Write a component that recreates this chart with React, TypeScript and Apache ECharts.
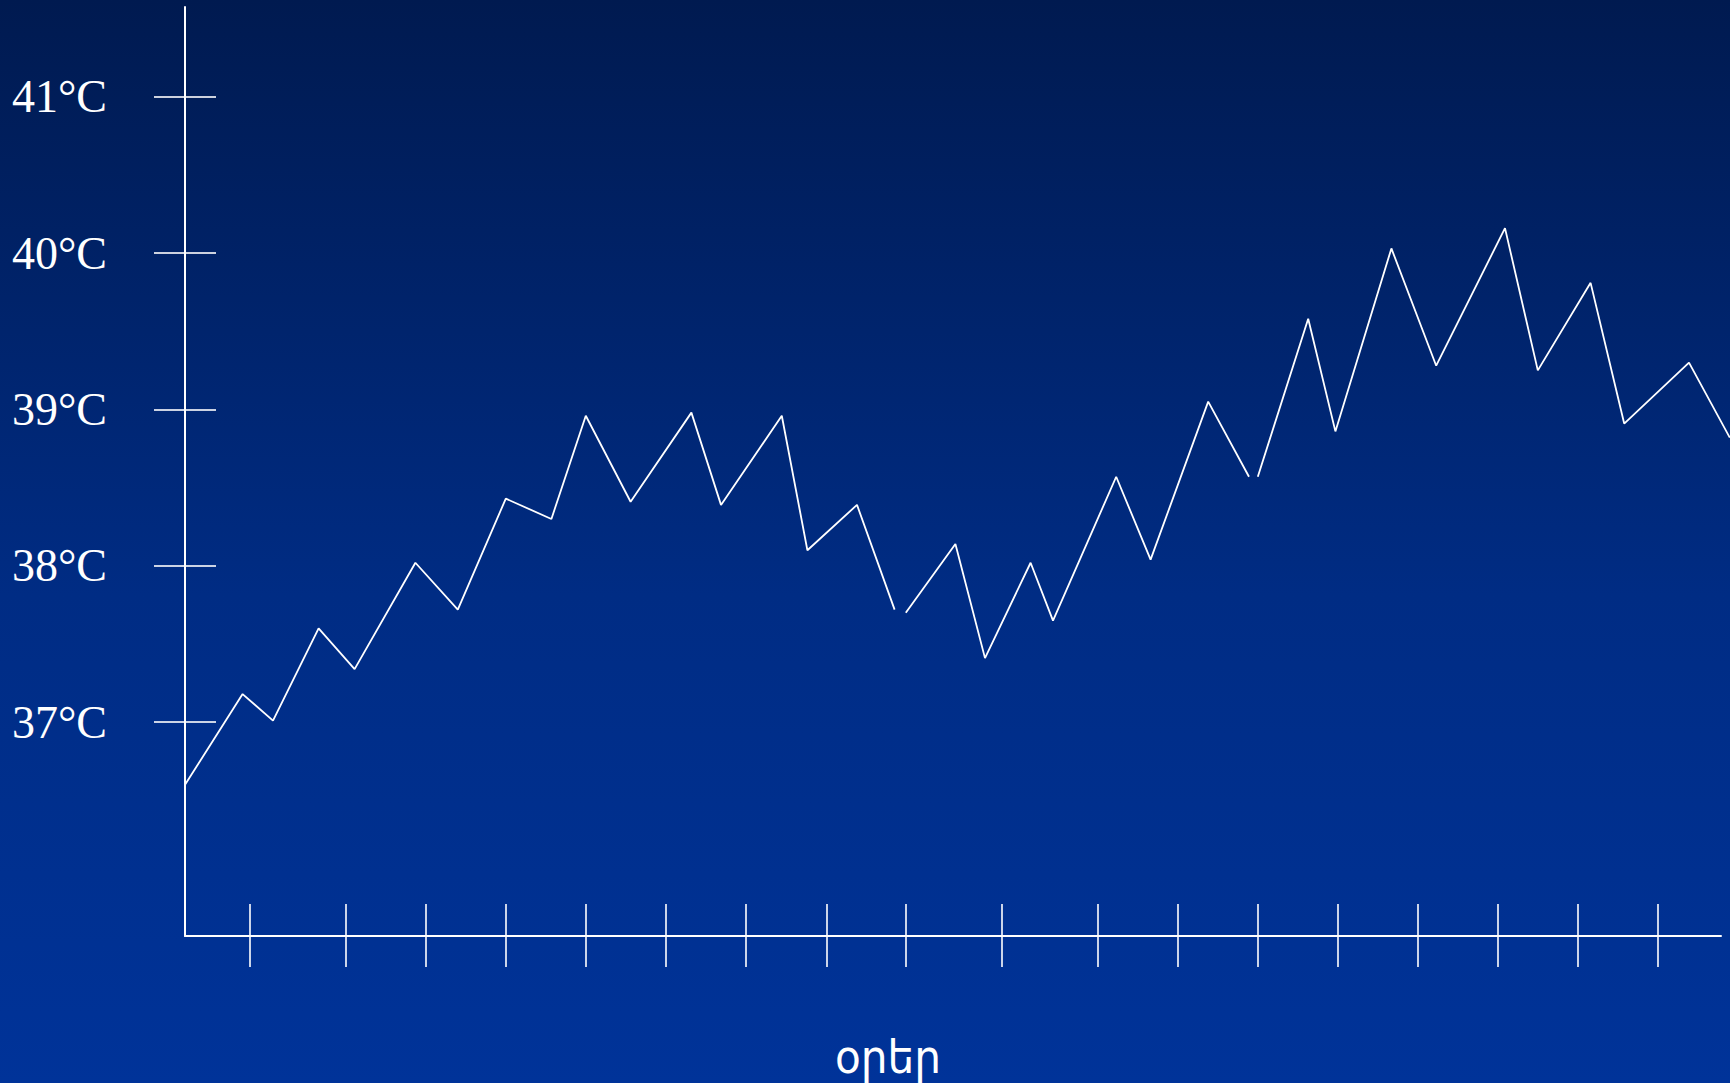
import React, { useEffect, useRef } from "react";
import * as echarts from "echarts";

// Days elapsed (x) and body temperature readings (°C), split where the curve breaks
const seg1Days = [0, 0.72, 1.1, 1.67, 2.12, 2.88, 3.41, 4.01, 4.58, 5.01, 5.57, 6.33, 6.7, 7.46, 7.78, 8.4, 8.87];
const seg1Temps = [36.6, 37.18, 37.01, 37.6, 37.34, 38.02, 37.72, 38.43, 38.3, 38.96, 38.41, 38.98, 38.39, 38.96, 38.1, 38.39, 37.72];

const seg2Days = [9.01, 9.63, 10.0, 10.57, 10.85, 11.64, 12.07, 12.79, 13.3];
const seg2Temps = [37.7, 38.14, 37.41, 38.02, 37.65, 38.57, 38.04, 39.05, 38.57];

const seg3Days = [13.41, 14.04, 14.38, 15.08, 15.64, 16.5, 16.91, 17.57, 17.99, 18.8, 19.31];
const seg3Temps = [38.57, 39.58, 38.86, 40.03, 39.28, 40.16, 39.25, 39.81, 38.91, 39.3, 38.82];

// Day marks along the horizontal axis
const dayTicks = [0.81, 2.01, 3.01, 4.01, 5.01, 6.01, 7.01, 8.02, 9.01, 10.21, 11.41, 12.41, 13.41, 14.41, 15.41, 16.41, 17.41, 18.41];

// Temperature marks on the vertical axis
const tempTicks = [37, 38, 39, 40, 41];

const xAxisTitle = "օրեր";

const X_MIN = 0;
const X_AXIS_MAX = 19.2; // where the drawn day axis stops
const X_PLOT_MAX = 19.3125; // the curve runs on to the right edge
const Y_MIN = 35.633;
const Y_MAX = 41.574;

const WHITE = "#ffffff";

function pairs(xs: number[], ys: number[]) {
  return xs.map((x, i) => [x, ys[i]]);
}

export default function App() {
  const ref = useRef<HTMLDivElement>(null);

  useEffect(() => {
    if (!ref.current) return;
    const chart = echarts.init(ref.current, null, { renderer: "svg" });

    const lineSeries = (data: number[][]) => ({
      type: "line",
      xAxisIndex: 2,
      yAxisIndex: 2,
      data,
      symbol: "none",
      clip: false,
      lineStyle: { color: WHITE, width: 1.8 },
      silent: true,
    });

    const baseX = {
      type: "value",
      min: X_MIN,
      max: X_AXIS_MAX,
      position: "bottom",
      gridIndex: 0,
      splitLine: { show: false },
      axisLabel: { show: false },
    };
    const baseY = {
      type: "value",
      min: Y_MIN,
      max: Y_MAX,
      position: "left",
      gridIndex: 0,
      splitLine: { show: false },
    };

    chart.setOption({
      animation: false,
      backgroundColor: new echarts.graphic.LinearGradient(0, 0, 0, 1, [
        { offset: 0, color: "#001a50" },
        { offset: 0.55, color: "#002c84" },
        { offset: 1, color: "#003399" },
      ]),
      grid: [
        { left: 185, right: 9, top: 7, bottom: 147, containLabel: false, outerBoundsMode: "none" },
        { left: 185, right: 0, top: 7, bottom: 147, containLabel: false, outerBoundsMode: "none" },
      ],
      xAxis: [
        {
          ...baseX,
          axisLine: { show: true, lineStyle: { color: WHITE, width: 2 } },
          axisTick: {
            show: true,
            inside: false,
            length: 31,
            customValues: dayTicks,
            lineStyle: { color: WHITE, width: 1.6 },
          },
        },
        {
          ...baseX,
          axisLine: { show: false },
          axisTick: {
            show: true,
            inside: true,
            length: 32,
            customValues: dayTicks,
            lineStyle: { color: WHITE, width: 1.6 },
          },
        },
        {
          type: "value",
          gridIndex: 1,
          min: X_MIN,
          max: X_PLOT_MAX,
          show: false,
        },
      ],
      yAxis: [
        {
          ...baseY,
          axisLine: { show: true, lineStyle: { color: WHITE, width: 2 } },
          axisTick: {
            show: true,
            inside: false,
            length: 31,
            customValues: tempTicks,
            lineStyle: { color: WHITE, width: 1.6 },
          },
          axisLabel: {
            show: true,
            customValues: tempTicks,
            margin: 78,
            color: WHITE,
            fontFamily: "Liberation Serif",
            fontSize: 46,
            formatter: (v: number) => `${v}°C`,
          },
        },
        {
          ...baseY,
          axisLine: { show: false },
          axisLabel: { show: false },
          axisTick: {
            show: true,
            inside: true,
            length: 31,
            customValues: tempTicks,
            lineStyle: { color: WHITE, width: 1.6 },
          },
        },
        {
          type: "value",
          gridIndex: 1,
          min: Y_MIN,
          max: Y_MAX,
          show: false,
        },
      ],
      graphic: [
        {
          type: "text",
          x: 888,
          y: 1056,
          style: {
            text: xAxisTitle,
            fill: WHITE,
            font: '47px "DejaVu Sans Condensed", "DejaVu Sans"',
            textAlign: "center",
            textVerticalAlign: "middle",
          },
          silent: true,
        },
      ],
      series: [
        lineSeries(pairs(seg1Days, seg1Temps)),
        lineSeries(pairs(seg2Days, seg2Temps)),
        lineSeries(pairs(seg3Days, seg3Temps)),
      ],
    });

    return () => chart.dispose();
  }, []);

  return (
    <div
      ref={ref}
      style={{ position: "fixed", left: 0, top: 0, width: 1730, height: 1083 }}
    />
  );
}
